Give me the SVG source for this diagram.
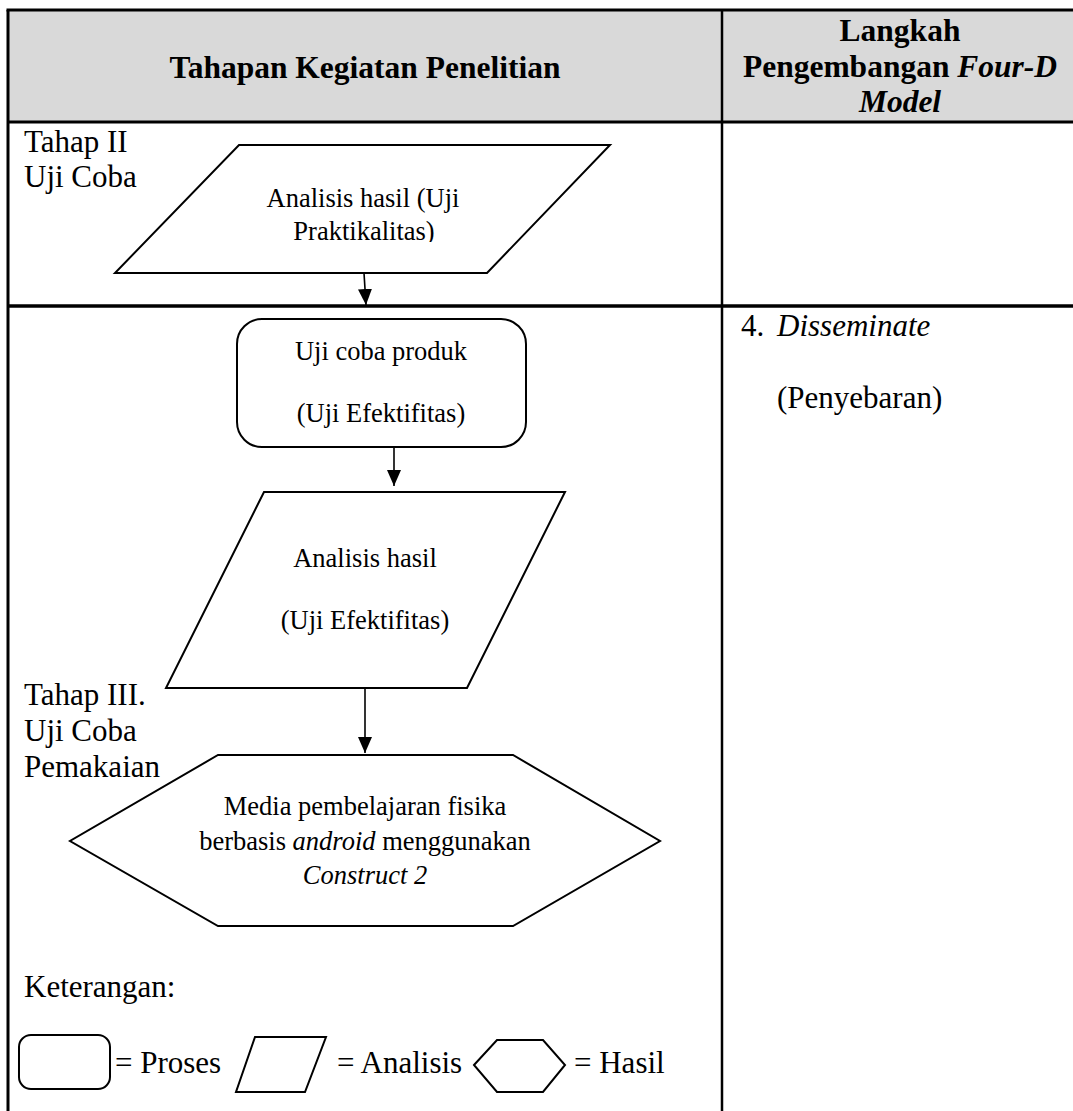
<svg xmlns="http://www.w3.org/2000/svg" width="1073" height="1111" viewBox="0 0 1073 1111">
<style>
text{font-family:"Liberation Serif","Times New Roman",serif;fill:#000}
.hd{font-size:31.5px;font-weight:bold}
.lb{font-size:31px}
.in{font-size:26.5px}
.it{font-style:italic}
.shape{fill:#fff;stroke:#000;stroke-width:2;stroke-linejoin:miter}
.grid{stroke:#000;fill:none}
.conn{stroke:#000;stroke-width:1.6;fill:none}
</style>
<defs>
<marker id="arr" viewBox="0 0 16 14" refX="16" refY="7" markerWidth="16" markerHeight="14" markerUnits="userSpaceOnUse" orient="auto">
<path d="M0,0 L16,7 L0,14 z" fill="#000"/>
</marker>
<clipPath id="clip1"><rect x="240" y="150" width="250" height="92"/></clipPath>
</defs>

<g id="table">
<rect x="8" y="10" width="1070" height="112" fill="#d9d9d9"/>
<line class="grid" x1="6.5" y1="10" x2="1073" y2="10" stroke-width="3"/>
<line class="grid" x1="8" y1="10" x2="8" y2="1111" stroke-width="3"/>
<line class="grid" x1="722" y1="10" x2="722" y2="1111" stroke-width="2.5"/>
<line class="grid" x1="8" y1="122" x2="1073" y2="122" stroke-width="3"/>
<line class="grid" x1="8" y1="306" x2="1073" y2="306" stroke-width="3.5"/>
<text class="hd" x="365" y="78" text-anchor="middle">Tahapan Kegiatan Penelitian</text>
<text class="hd" x="900" y="41" text-anchor="middle">Langkah</text>
<text class="hd" x="900" y="77" text-anchor="middle">Pengembangan <tspan class="it">Four-D</tspan></text>
<text class="hd it" x="900" y="112" text-anchor="middle">Model</text>
</g>

<g id="stage-labels">
<text class="lb" x="24" y="152">Tahap II</text>
<text class="lb" x="24" y="187">Uji Coba</text>
<text class="lb" x="24" y="705">Tahap III.</text>
<text class="lb" x="24" y="741">Uji Coba</text>
<text class="lb" x="24" y="777">Pemakaian</text>
<text class="lb" x="741" y="336">4. <tspan class="it" x="777">Disseminate</tspan></text>
<text class="lb" x="777" y="408">(Penyebaran)</text>
</g>

<g id="analisis-praktikalitas">
<polygon class="shape" points="239,145 610,145 487,273 115,273"/>
<g clip-path="url(#clip1)">
<text class="in" x="363" y="207" text-anchor="middle">Analisis hasil (Uji</text>
<text class="in" x="364" y="240" text-anchor="middle">Praktikalitas)</text>
</g>
</g>

<g id="uji-coba-produk">
<rect class="shape" x="237" y="319" width="289" height="128" rx="25" ry="25"/>
<text class="in" x="381" y="360" text-anchor="middle">Uji coba produk</text>
<text class="in" x="381" y="422" text-anchor="middle">(Uji Efektifitas)</text>
</g>

<g id="analisis-efektifitas">
<polygon class="shape" points="264,492 565,492 467,688 166,688"/>
<text class="in" x="365" y="567" text-anchor="middle">Analisis hasil</text>
<text class="in" x="365" y="629" text-anchor="middle">(Uji Efektifitas)</text>
</g>

<g id="hasil-media">
<polygon class="shape" points="218,755 513,755 660,841 513,926 218,926 70,841"/>
<text class="in" x="365" y="815" text-anchor="middle">Media pembelajaran fisika</text>
<text class="in" x="365" y="850" text-anchor="middle">berbasis <tspan class="it">android</tspan> menggunakan</text>
<text class="in it" x="365" y="884" text-anchor="middle">Construct 2</text>
</g>

<g id="connectors">
<line class="conn" x1="364" y1="273" x2="366" y2="305" marker-end="url(#arr)"/>
<line class="conn" x1="394" y1="447" x2="394" y2="486" marker-end="url(#arr)"/>
<line class="conn" x1="365" y1="688" x2="365" y2="753" marker-end="url(#arr)"/>
</g>

<g id="legend">
<text class="lb" x="24" y="997">Keterangan:</text>
<rect class="shape" x="19" y="1035" width="91" height="54" rx="12" ry="12"/>
<text class="lb" x="115" y="1073">= Proses</text>
<polygon class="shape" points="255,1037 326,1037 305,1092 236,1092"/>
<text class="lb" x="337" y="1073">= Analisis</text>
<polygon class="shape" points="474,1065 497,1040 543,1040 565,1065 543,1092 497,1092"/>
<text class="lb" x="574" y="1073">= Hasil</text>
</g>
</svg>
